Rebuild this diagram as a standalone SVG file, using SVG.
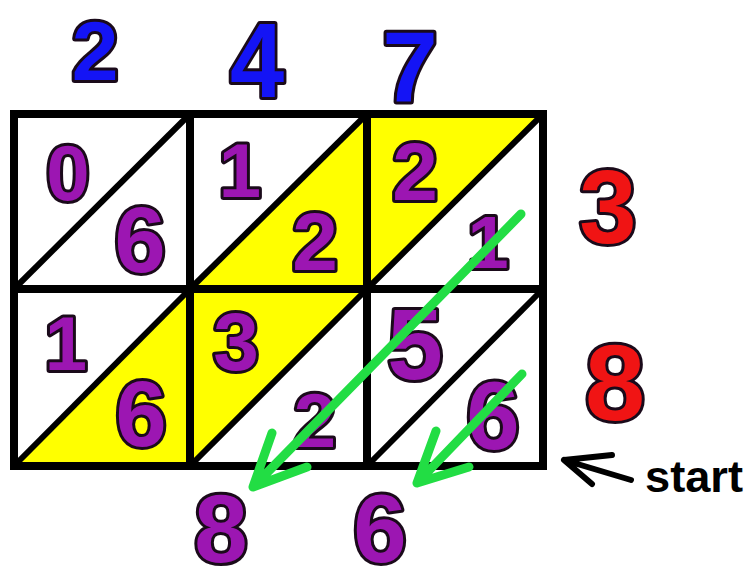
<svg xmlns="http://www.w3.org/2000/svg" width="751" height="583" viewBox="0 0 751 583">
<style>
.d{font-family:"Liberation Sans","DejaVu Sans",sans-serif;font-weight:bold;text-anchor:middle;stroke:#1a0a1a;stroke-width:6;stroke-linejoin:round;paint-order:stroke fill}
.p{fill:#9c16b2}
.b{fill:#1414f5}
.r{fill:#f01414}
.y{fill:#ffff00}
.g{stroke:#000;stroke-width:8;fill:none;stroke-linecap:square}
.dg{stroke:#000;stroke-width:6;fill:none}
.ar{stroke:#22dd44;stroke-width:9;fill:none;stroke-linecap:round;stroke-linejoin:round}
.st{stroke:#000;stroke-width:6;fill:none;stroke-linecap:round;stroke-linejoin:round}
</style>
<rect width="751" height="583" fill="#fff"/>
<g id="cells">
<g id="c11"><path class="dg" d="M14 289L190 114"/><text class="d p" x="68" y="200" font-size="78">0</text><text class="d p" x="140" y="272" font-size="92">6</text></g>
<g id="c12"><polygon class="y" points="367,114 367,289 190,289"/><path class="dg" d="M190 289L367 114"/><text class="d p" x="240" y="197" font-size="76">1</text><text class="d p" x="315" y="270" font-size="82">2</text></g>
<g id="c13"><polygon class="y" points="367,114 543,114 367,289"/><path class="dg" d="M367 289L543 114"/><text class="d p" x="415" y="200" font-size="82">2</text><text class="d p" x="488" y="268" font-size="74">1</text></g>
<g id="c21"><polygon class="y" points="190,289 190,466 14,466"/><path class="dg" d="M14 466L190 289"/><text class="d p" x="66" y="370" font-size="76">1</text><text class="d p" x="141" y="446" font-size="92">6</text></g>
<g id="c22"><polygon class="y" points="190,289 367,289 190,466"/><path class="dg" d="M190 466L367 289"/><text class="d p" x="236" y="370" font-size="82">3</text><text class="d p" x="315" y="447" font-size="76">2</text></g>
<g id="c23"><path class="dg" d="M367 466L543 289"/><text class="d p" x="415" y="379" font-size="100">5</text><text class="d p" x="493" y="449" font-size="96">6</text></g>
</g>
<g id="grid">
<rect class="g" x="14" y="114" width="529" height="352"/>
<path class="g" d="M190 114V466M367 114V466M14 289H543"/>
</g>
<g id="top">
<text class="d b" x="95" y="80" font-size="84">2</text>
<text class="d b" x="257" y="97" font-size="106" transform="translate(257 0) scale(0.92 1) translate(-257 0)">4</text>
<text class="d b" x="410" y="102" font-size="100">7</text>
</g>
<g id="side">
<text class="d r" x="608" y="243" font-size="103">3</text>
<text class="d r" x="615" y="420" font-size="108">8</text>
</g>
<g id="result">
<text class="d p" x="221" y="562" font-size="96">8</text>
<text class="d p" x="380" y="562" font-size="96">6</text>
</g>
<g id="connectors">
<path class="ar" d="M521 214L253 487M272 433L253 487L307 467"/>
<path class="ar" d="M522 374L417 483M436 431L417 483L469 467"/>
<path class="st" d="M612 455L564 460L631 480M564 460L592 484"/>
</g>
<g id="start"><text x="645" y="492" font-family="'Liberation Sans',sans-serif" font-weight="bold" font-size="44" textLength="98" lengthAdjust="spacingAndGlyphs" fill="#000">start</text></g>
</svg>
